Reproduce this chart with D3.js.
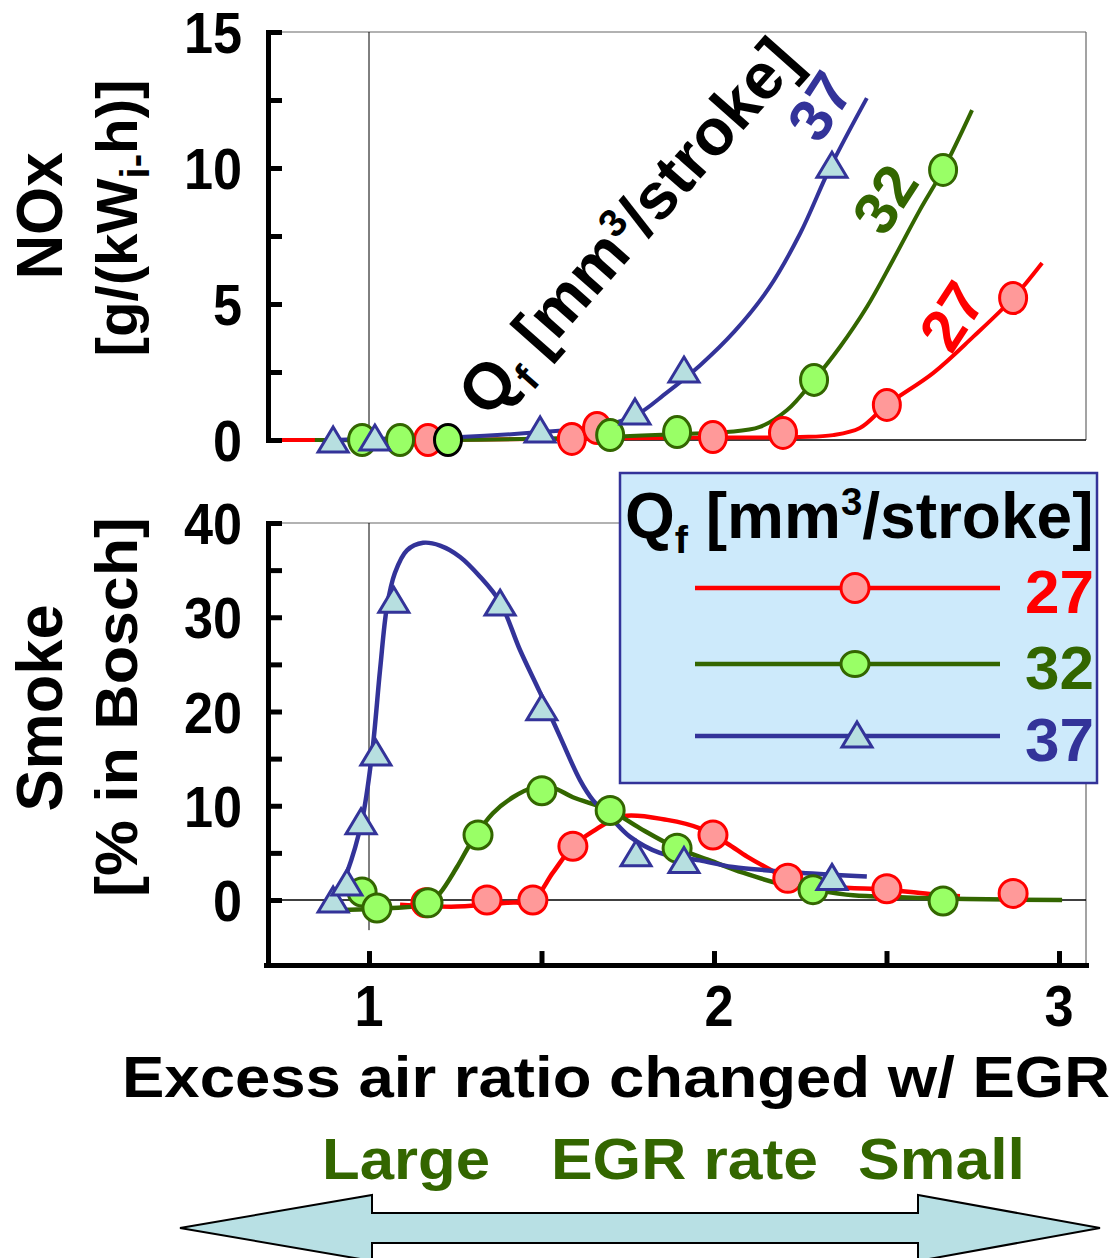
<!DOCTYPE html>
<html>
<head>
<meta charset="utf-8">
<script src="https://cdn.jsdelivr.net/npm/d3@7"></script>
<style>
body { margin: 0; background: #fff; }
svg text { font-family: "Liberation Sans", Arial, sans-serif; font-weight: bold; }
</style>
</head>
<body>
<svg id="chart"></svg>
<script>
// values: [excess air ratio, value]
qfNames = ['27', '32', '37']
xTicks = [1, 1.5, 2, 2.5, 3]
xTickLabels = [1, 2, 3]
noxTicks = [0, 2.5, 5, 7.5, 10, 12.5, 15]
noxTickLabels = [0, 5, 10, 15]
smokeTicks = [0, 5, 10, 15, 20, 25, 30, 35, 40]
smokeTickLabels = [0, 10, 20, 30, 40]

// NOx [g/(kWi-h)]
nox27 = [[1.171,0],[1.588,0.04],[1.661,0.44],[1.997,0.11],[2.200,0.26],[2.501,1.29],[2.867,5.22]]
nox27Curve = [[0.713,0],[1.171,0],[1.6,0.05],[1.997,0.09],[2.249,0.11],[2.345,0.18],[2.423,0.44],[2.501,1.29],[2.635,2.46],[2.751,3.79],[2.867,5.22],[2.951,6.51]]
nox32 = [[0.980,0],[1.090,0],[1.229,0],[1.699,0.18],[1.893,0.29],[2.290,2.21],[2.664,9.93]]
nox32Curve = [[0.843,0],[1.229,0],[1.699,0.12],[1.893,0.22],[2.038,0.29],[2.133,0.48],[2.212,1.10],[2.290,2.21],[2.365,3.42],[2.443,4.89],[2.519,6.62],[2.597,8.46],[2.664,9.93],[2.748,12.13]]
nox37 = [[0.896,0],[1.017,0.07],[1.496,0.37],[1.771,1.03],[1.913,2.57],[2.342,10.1]]
nox37Curve = [[0.896,0],[1.017,0.05],[1.264,0.11],[1.496,0.29],[1.649,0.48],[1.765,0.85],[1.864,1.75],[1.960,2.75],[2.060,4.0],[2.160,5.6],[2.250,7.6],[2.336,10.0],[2.443,12.57]]

// Smoke [% in Bosch]
smoke27 = [[1.165,-0.3],[1.342,0],[1.475,0],[1.591,5.7],[1.997,6.9],[2.214,2.3],[2.501,1.2],[2.867,0.7]]
smoke27Curve = [[1.090,-0.5],[1.255,-0.7],[1.400,-0.3],[1.475,0],[1.533,2.9],[1.591,5.7],[1.650,7.3],[1.736,8.9],[1.864,8.5],[1.959,7.6],[2.038,6.0],[2.096,4.6],[2.154,3.4],[2.214,2.3],[2.345,1.4],[2.501,1.1],[2.635,0.6],[2.713,0.4]]
smoke32 = [[0.980,0.85],[1.023,-0.85],[1.171,-0.3],[1.316,6.9],[1.501,11.6],[1.699,9.5],[1.893,5.5],[2.287,1.1],[2.664,-0.1]]
smoke32Curve = [[0.887,-1.1],[1.061,-0.85],[1.171,-0.4],[1.206,0.75],[1.255,3.5],[1.301,6.4],[1.359,9.2],[1.417,10.9],[1.475,11.9],[1.533,11.9],[1.591,10.9],[1.699,9.5],[1.786,7.6],[1.893,5.5],[1.988,4.2],[2.084,2.9],[2.183,1.8],[2.287,1.1],[2.403,0.5],[2.539,0.3],[2.733,0.1],[3.009,0]]
smoke37 = [[0.896,0],[0.936,1.8],[0.977,8.3],[1.020,15.6],[1.072,31.8],[1.380,31.5],[1.501,20.4],[1.774,4.9],[1.913,4.2],[2.342,2.4]]
smoke37Curve = [[0.896,-0.3],[0.936,2.9],[0.980,8.5],[1.009,15.6],[1.032,24.4],[1.052,31.1],[1.075,34.7],[1.110,37.1],[1.157,37.9],[1.206,37.6],[1.264,36.4],[1.322,34.3],[1.380,31.6],[1.438,26.5],[1.496,22.0],[1.554,17.3],[1.612,12.7],[1.649,10.6],[1.699,8.8],[1.757,6.7],[1.843,5.0],[1.959,4.2],[2.055,3.5],[2.249,2.9],[2.443,2.5]]

RED = '#ff0000', RED_FILL = '#ff9999'
GREEN = '#336600', GREEN_FILL = '#99ff66'
BLUE = '#333399', BLUE_FILL = '#b7dfe0'

series = [
    {name: qfNames[0], color: RED, fill: RED_FILL, shape: 'circle', nox: nox27, noxCurve: nox27Curve, smoke: smoke27, smokeCurve: smoke27Curve},
    {name: qfNames[1], color: GREEN, fill: GREEN_FILL, shape: 'circle', nox: nox32, noxCurve: nox32Curve, smoke: smoke32, smokeCurve: smoke32Curve},
    {name: qfNames[2], color: BLUE, fill: BLUE_FILL, shape: 'triangle', nox: nox37, noxCurve: nox37Curve, smoke: smoke37, smokeCurve: smoke37Curve}
]

let width = 1114
let height = 1258
let plotLeft = 268
let plotRight = 1086

const svg = d3.select('#chart').attr('width', width).attr('height', height)

x = d3.scaleLinear().domain([1, 3]).range([369, 1059])
yN = d3.scaleLinear().domain([0, 15]).range([440, 32])
yS = d3.scaleLinear().domain([0, 40]).range([900, 523])
smokeAxisMin = -6.9

// thin frames
function frame(top, bottom, zeroY) {
    const g = svg.append('g')
    g.append('line').attr('x1', plotLeft).attr('x2', plotRight).attr('y1', top).attr('y2', top)
        .attr('stroke', '#666').attr('stroke-width', 1.2)
    g.append('line').attr('x1', plotRight).attr('x2', plotRight).attr('y1', top).attr('y2', bottom)
        .attr('stroke', '#666').attr('stroke-width', 1.2)
    g.append('line').attr('x1', plotLeft).attr('x2', plotRight).attr('y1', zeroY).attr('y2', zeroY)
        .attr('stroke', '#000').attr('stroke-width', 1.6)
}
frame(yN(15), yN(0), yN(0))
frame(yS(40), yS(smokeAxisMin), yS(0))
svg.append('line').attr('x1', x(1)).attr('x2', x(1)).attr('y1', yN(15)).attr('y2', yN(0))
    .attr('stroke', '#000').attr('stroke-width', 1)
svg.append('line').attr('x1', x(1)).attr('x2', x(1)).attr('y1', yS(40)).attr('y2', yS(-3.2))
    .attr('stroke', '#000').attr('stroke-width', 1)

// curves
function curve(yScale) {
    return d3.line().x(d => x(d[0])).y(d => yScale(d[1])).curve(d3.curveCatmullRom.alpha(0.5))
}
series.forEach(s => {
    svg.append('path').datum(s.noxCurve).attr('d', curve(yN))
        .attr('fill', 'none').attr('stroke', s.color).attr('stroke-width', 4)
    svg.append('path').datum(s.smokeCurve).attr('d', curve(yS))
        .attr('fill', 'none').attr('stroke', s.color).attr('stroke-width', 4.5)
})

// markers
const tri = 'M0,-13L15,12L-15,12Z'
function markers(s, data, yScale, rx, ry, ringBlack) {
    const g = svg.append('g')
    if (s.shape == 'triangle') {
        g.selectAll('path').data(data).enter().append('path')
            .attr('d', tri)
            .attr('transform', d => `translate(${x(d[0])},${yScale(d[1])})`)
            .attr('fill', s.fill).attr('stroke', s.color).attr('stroke-width', 3)
    } else {
        g.selectAll('ellipse').data(data).enter().append('ellipse')
            .attr('cx', d => x(d[0])).attr('cy', d => yScale(d[1]))
            .attr('rx', rx).attr('ry', ry)
            .attr('fill', s.fill)
            .attr('stroke', (d, i) => i === ringBlack ? '#000' : s.color)
            .attr('stroke-width', 3)
    }
}
series.forEach(s => markers(s, s.nox, yN, 13.5, 15.5, s.name == '32' ? 2 : -1))
series.forEach(s => markers(s, s.smoke, yS, 14, 14, -1))

// axes
const axisN = svg.append('g').attr('transform', `translate(${plotLeft},0)`)
    .call(d3.axisRight(yN).tickValues(noxTicks).tickSizeInner(14).tickSizeOuter(0).tickFormat(''))
const ySAxis = yS.copy().domain([smokeAxisMin, 40]).range([yS(smokeAxisMin), yS(40)])
const axisS = svg.append('g').attr('transform', `translate(${plotLeft},0)`)
    .call(d3.axisRight(ySAxis).tickValues(smokeTicks).tickSizeInner(14).tickSizeOuter(0).tickFormat(''))
const xAxisScale = x.copy().domain([x.invert(plotLeft - 2), x.invert(plotRight)]).range([plotLeft - 2, plotRight])
const axisX = svg.append('g').attr('transform', `translate(0,${yS(smokeAxisMin)})`)
    .call(d3.axisBottom(xAxisScale).tickValues(xTicks).tickSizeInner(-14).tickSizeOuter(0).tickFormat(''))
;[axisN, axisS, axisX].forEach(a => {
    a.select('.domain').attr('stroke', '#000').attr('stroke-width', 5).attr('stroke-linecap', 'square')
    a.selectAll('.tick line').attr('stroke', '#000').attr('stroke-width', 5)
})

// slightly condensed bold text
function narrow(x0, y0, str, size, anchor, color) {
    svg.append('g').attr('transform', `translate(${x0},${y0}) scale(0.9,1)`)
        .append('text').attr('text-anchor', anchor).attr('font-size', size)
        .attr('fill', color || '#000').text(str)
}
noxTickLabels.forEach(v => narrow(242, yN(v) + 21, v, 58, 'end'))
smokeTickLabels.forEach(v => narrow(242, yS(v) + 21, v, 58, 'end'))
xTickLabels.forEach(v => narrow(x(v) + (v == 2 ? 5 : 0), 1026, v, 58, 'middle'))

function fitted(x0, y0, str, size, len, color) {
    return svg.append('text').attr('x', x0).attr('y', y0).attr('font-size', size)
        .attr('textLength', len).attr('lengthAdjust', 'spacingAndGlyphs')
        .attr('fill', color || '#000').text(str)
}
fitted(122, 1097, 'Excess air ratio changed w/ EGR', 58, 988)
fitted(322, 1179, 'Large', 58, 168, GREEN)
fitted(551, 1179, 'EGR rate', 58, 267, GREEN)
fitted(858, 1179, 'Small', 58, 167, GREEN)

// y titles
function vTitle(bx, cy, size, len) {
    return svg.append('text').attr('transform', `translate(${bx},${cy}) rotate(-90)`)
        .attr('text-anchor', 'middle').attr('font-size', size)
        .attr('textLength', len).attr('lengthAdjust', 'spacingAndGlyphs')
}
vTitle(62, 216, 64, 127).text('NOx')
const t2 = vTitle(137, 218, 58, 277)
t2.append('tspan').text('[g/(kW')
t2.append('tspan').attr('font-size', 40).attr('dy', 12).text('i')
t2.append('tspan').attr('font-size', 40).text('-')
t2.append('tspan').attr('dy', -12).text('h)]')
vTitle(62, 708, 64, 207).text('Smoke')
vTitle(137, 707, 60, 380).text('[% in Bosch]')

// Qf unit text, used twice
function qfText(sel, size) {
    sel.attr('font-size', size)
    sel.append('tspan').text('Q')
    sel.append('tspan').attr('font-size', size * 0.62).attr('dy', size * 0.24).text('f')
    sel.append('tspan').attr('dy', -size * 0.24).text(' [mm')
    sel.append('tspan').attr('font-size', size * 0.6).attr('dy', -size * 0.36).text('3')
    sel.append('tspan').attr('dy', size * 0.36).text('/stroke]')
    return sel
}
qfText(svg.append('text').attr('transform', 'translate(628,226) rotate(-48.5)')
    .attr('text-anchor', 'middle').attr('y', 23), 65)

// curve labels in NOx plot
const curveLabelPos = [[952, 316], [885, 199], [820, 106]]
series.forEach((s, i) => {
    svg.append('text').attr('transform', `translate(${curveLabelPos[i][0]},${curveLabelPos[i][1]}) rotate(-57)`)
        .attr('text-anchor', 'middle').attr('y', 21).attr('font-size', 60)
        .attr('fill', s.color).text(s.name)
})

// legend
const legend = svg.append('g')
legend.append('rect').attr('x', 620).attr('y', 473).attr('width', 477).attr('height', 310)
    .attr('fill', '#cdeafb').attr('stroke', BLUE).attr('stroke-width', 2.5)
qfText(legend.append('text').attr('x', 625).attr('y', 538), 64)
const legendY = [588, 664, 736]
series.forEach((s, i) => {
    const y = legendY[i]
    legend.append('line').attr('x1', 695).attr('x2', 1000).attr('y1', y).attr('y2', y)
        .attr('stroke', s.color).attr('stroke-width', 4.5)
    if (s.shape == 'triangle') {
        legend.append('path').attr('d', tri).attr('transform', `translate(857,${y - 1})`)
            .attr('fill', s.fill).attr('stroke', s.color).attr('stroke-width', 3)
    } else {
        legend.append('ellipse').attr('cx', 855).attr('cy', y).attr('rx', 14).attr('ry', i == 1 ? 12.5 : 14.5)
            .attr('fill', s.fill).attr('stroke', s.color).attr('stroke-width', 3)
    }
    legend.append('text').attr('x', 1025).attr('y', y + 25).attr('font-size', 62)
        .attr('fill', s.color).text(s.name)
})

// double arrow under the axis
const ay = 1228
svg.append('polygon')
    .attr('points', [[180, ay], [372, ay - 33], [372, ay - 15], [918, ay - 15], [918, ay - 33], [1100, ay],
        [918, ay + 33], [918, ay + 15], [372, ay + 15], [372, ay + 33]].join(' '))
    .attr('fill', '#b8e0e4').attr('stroke', '#000').attr('stroke-width', 2)
</script>
</body>
</html>
